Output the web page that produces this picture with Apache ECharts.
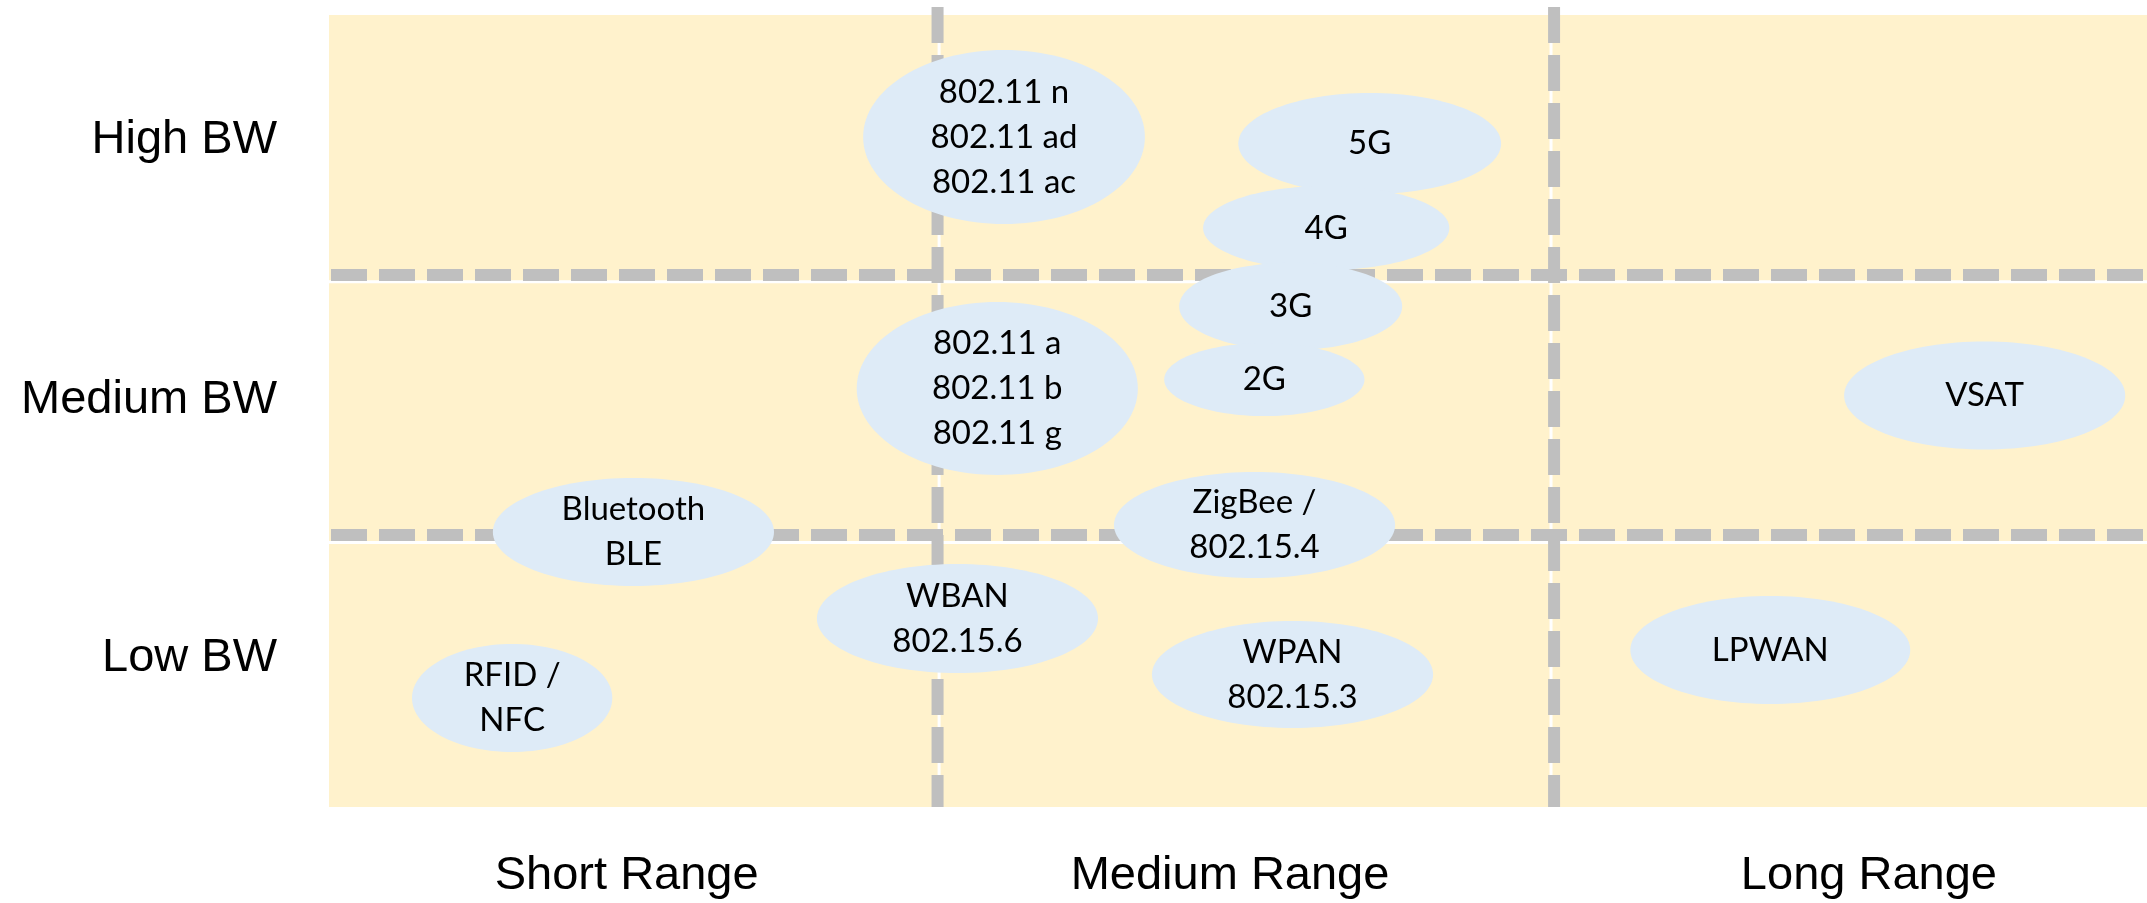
<!DOCTYPE html>
<html>
<head>
<meta charset="utf-8">
<script src="https://cdn.jsdelivr.net/npm/echarts@6/dist/echarts.min.js"></script>
<style>
html,body{margin:0;padding:0;background:#ffffff;}
#chart{width:2147px;height:903px;}
</style>
</head>
<body>
<div id="chart"></div>
<script>
// ---- Axis labels (category names and where they sit on the axes) ----
const rangeLabels = ['Short Range', 'Medium Range', 'Long Range'];
const rangeLabelPos = [0.486, 1.471, 2.514];
const bwLabels = ['Low BW', 'Medium BW', 'High BW'];
const bwLabelPos = [0.564, 1.542, 2.526];

// ---- Cell boundaries (background quadrants) and dashed divider positions ----
const cellXBounds = [0, 0.996, 1.995, 2.968];
const cellYBounds = [0, 1.002, 1.989, 3.0];
const rangeDividers = [0.9935, 2.0];
const bwDividers = [1.030, 2.015];

// ---- Technologies: centre (range, bandwidth) and extent (range span, bandwidth span) ----
const techNames = [
  '802.11 n\n802.11 ad\n802.11 ac',
  '802.11 a\n802.11 b\n802.11 g',
  '5G',
  '4G',
  '3G',
  '2G',
  'VSAT',
  'LPWAN',
  'Bluetooth\nBLE',
  'WBAN\n802.15.6',
  'RFID /\nNFC',
  'ZigBee /\n802.15.4',
  'WPAN\n802.15.3'
];
const techRange     = [1.102, 1.091, 1.699, 1.628, 1.570, 1.527, 2.703, 2.353, 0.497, 1.026, 0.299, 1.511, 1.573];
const techBW        = [2.538, 1.585, 2.513, 2.193, 1.896, 1.619, 1.559, 0.595, 1.042, 0.714, 0.413, 1.068, 0.502];
const techRangeSpan = [0.460, 0.459, 0.429, 0.402, 0.364, 0.327, 0.459, 0.457, 0.459, 0.459, 0.327, 0.459, 0.459];
const techBWSpan    = [0.659, 0.655, 0.383, 0.318, 0.330, 0.277, 0.409, 0.409, 0.409, 0.413, 0.409, 0.402, 0.405];

const X_MAX = 2.968;
const Y_MAX = 3.03;

function labelFor(v, pos, labels) {
  let best = -1, d = Infinity;
  pos.forEach((p, i) => { const dd = Math.abs(p - v); if (dd < d) { d = dd; best = i; } });
  return d < 1e-6 ? labels[best] : '';
}

const cells = [];
for (let i = 0; i < 3; i++) {
  for (let j = 0; j < 3; j++) {
    cells.push([cellXBounds[i], cellYBounds[j], cellXBounds[i + 1], cellYBounds[j + 1], i, j]);
  }
}

const chart = echarts.init(document.getElementById('chart'), null, { renderer: 'canvas' });

const axisLabelStyle = {
  fontFamily: '"Liberation Sans", Arial, sans-serif',
  fontSize: 47,
  color: '#000000'
};

chart.setOption({
  animation: false,
  backgroundColor: '#ffffff',
  grid: { left: 329, top: 7, width: 1818, height: 800, outerBoundsMode: 'none', containLabel: false },
  xAxis: {
    type: 'value', min: 0, max: X_MAX,
    axisLine: { show: false }, axisTick: { show: false }, splitLine: { show: false },
    axisLabel: Object.assign({
      customValues: rangeLabelPos,
      margin: 46,
      formatter: v => labelFor(v, rangeLabelPos, rangeLabels)
    }, axisLabelStyle)
  },
  yAxis: {
    type: 'value', min: 0, max: Y_MAX,
    axisLine: { show: false }, axisTick: { show: false }, splitLine: { show: false },
    axisLabel: Object.assign({
      customValues: bwLabelPos,
      margin: 52,
      formatter: v => labelFor(v, bwLabelPos, bwLabels)
    }, axisLabelStyle)
  },
  series: [
    {
      name: 'cells',
      type: 'custom',
      z: 1,
      silent: true,
      data: cells,
      renderItem: function (params, api) {
        const x0 = api.value(0), y0 = api.value(1), x1 = api.value(2), y1 = api.value(3);
        const i = api.value(4), j = api.value(5);
        const tl = api.coord([x0, y1]);
        const br = api.coord([x1, y0]);
        const g = 1.5;
        const left = tl[0] + (i > 0 ? g : 0);
        const right = br[0] - (i < 2 ? g : 0);
        const top = tl[1] + (j < 2 ? g : 0);
        const bottom = br[1] - (j > 0 ? g : 0);
        return {
          type: 'rect',
          shape: { x: left, y: top, width: right - left, height: bottom - top },
          style: { fill: '#FFF2CC' }
        };
      }
    },
    {
      name: 'rangeDividers',
      type: 'custom',
      z: 2,
      silent: true,
      data: rangeDividers.map(v => [v, 0]),
      renderItem: function (params, api) {
        const x = api.value(0);
        const p0 = api.coord([x, Y_MAX]);
        const p1 = api.coord([x, 0]);
        return {
          type: 'line',
          shape: { x1: p0[0], y1: p0[1], x2: p1[0], y2: p1[1] },
          style: { stroke: '#BFBFBF', lineWidth: 12, lineDash: [36, 12], lineCap: 'butt' }
        };
      }
    },
    {
      name: 'bwDividers',
      type: 'custom',
      z: 2,
      silent: true,
      data: bwDividers.map(v => [0, v]),
      renderItem: function (params, api) {
        const y = api.value(1);
        const p0 = api.coord([0, y]);
        const p1 = api.coord([X_MAX, y]);
        return {
          type: 'line',
          shape: { x1: p0[0] + 2, y1: p0[1], x2: p1[0], y2: p1[1] },
          style: { stroke: '#BFBFBF', lineWidth: 12, lineDash: [36, 12], lineCap: 'butt' }
        };
      }
    },
    {
      name: 'technologies',
      type: 'custom',
      z: 3,
      silent: true,
      data: techNames.map((n, i) => [techRange[i], techBW[i], techRangeSpan[i], techBWSpan[i]]),
      renderItem: function (params, api) {
        const c = api.coord([api.value(0), api.value(1)]);
        const s = api.size([api.value(2), api.value(3)]);
        return {
          type: 'group',
          children: [
            {
              type: 'ellipse',
              shape: { cx: c[0], cy: c[1], rx: s[0] / 2, ry: s[1] / 2 },
              style: { fill: '#DEEBF7' }
            },
            {
              type: 'text',
              x: c[0],
              y: c[1],
              style: {
                text: techNames[params.dataIndex],
                fill: '#000000',
                fontFamily: 'Lato, "Open Sans", sans-serif',
                fontSize: 33,
                lineHeight: 45,
                align: 'center',
                verticalAlign: 'middle'
              }
            }
          ]
        };
      }
    }
  ]
});
</script>
</body>
</html>
